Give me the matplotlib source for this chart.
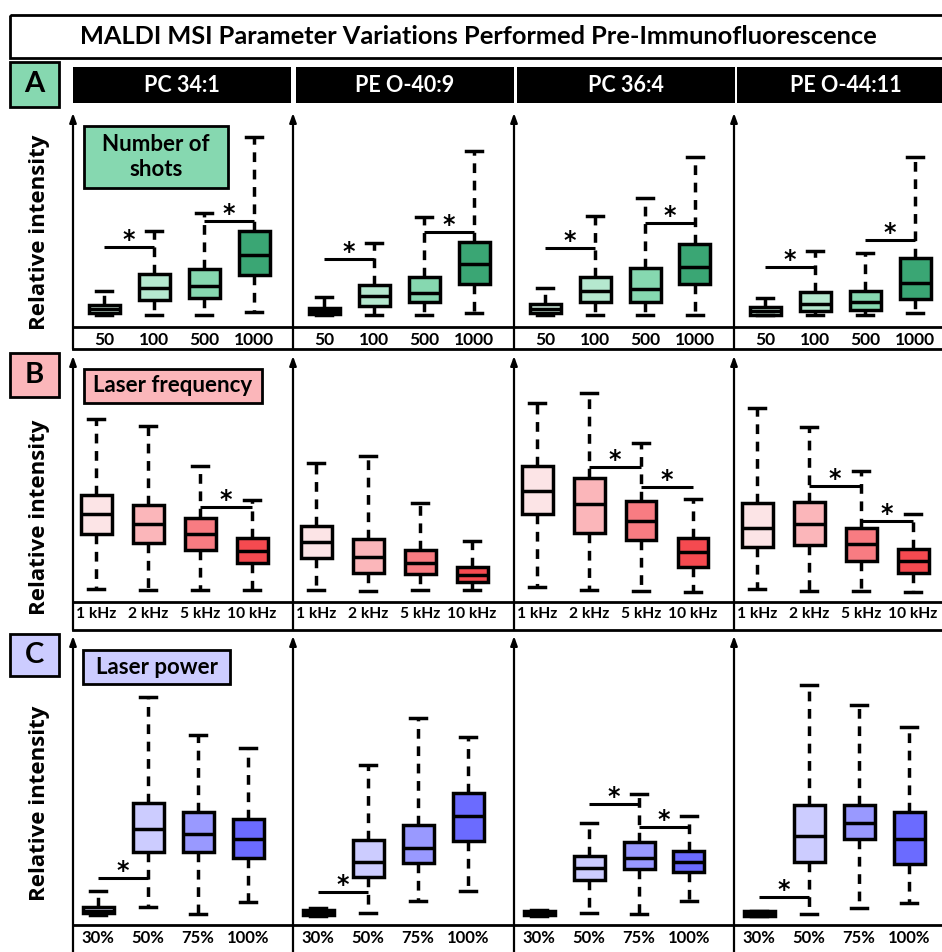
import matplotlib.pyplot as plt
from matplotlib.patches import Rectangle

plt.rcParams['font.family'] = ['Lato', 'DejaVu Sans']

title = "MALDI MSI Parameter Variations Performed Pre-Immunofluorescence"
lipids = ["PC 34:1", "PE O-40:9", "PC 36:4", "PE O-44:11"]
shot_labels = ["50", "100", "500", "1000"]
freq_labels = ["1 kHz", "2 kHz", "5 kHz", "10 kHz"]
power_labels = ["30%", "50%", "75%", "100%"]

# per lipid, per setting: whisker low, q1, median, q3, whisker high (relative intensity)
shots = [
    [[5.7, 6.6, 8.5, 10.4, 17.0], [5.7, 12.7, 18.4, 25.0, 45.3], [5.7, 13.7, 19.3, 27.4, 53.8], [7.0, 24.5, 34.0, 45.3, 89.6]],
    [[5.7, 6.1, 7.5, 9.0, 14.2], [5.7, 9.9, 14.8, 19.8, 39.8], [5.7, 11.6, 16.2, 23.7, 51.7], [6.5, 20.3, 29.7, 40.0, 83.2]],
    [[5.7, 6.5, 8.5, 10.8, 18.3], [5.7, 11.6, 17.0, 23.7, 52.5], [5.7, 11.9, 17.8, 28.0, 60.7], [5.7, 20.3, 28.2, 39.2, 80.0]],
    [[5.7, 5.8, 7.5, 9.3, 13.8], [5.7, 7.7, 10.7, 16.4, 36.0], [5.7, 8.0, 11.9, 17.1, 35.0], [6.7, 13.2, 20.6, 32.4, 80.3]],
]
shots_sig = [[(0, 1, 37.7), (2, 3, 50.0)], [(0, 1, 32.0), (2, 3, 44.7)],
             [(0, 1, 37.1), (2, 3, 49.2)], [(0, 1, 28.4), (2, 3, 41.0)]]

freq = [
    [[5.2, 27.7, 35.9, 43.9, 75.0], [4.9, 24.0, 31.8, 39.8, 72.1], [4.9, 21.3, 27.7, 34.3, 55.9], [4.9, 15.9, 20.9, 26.4, 41.8]],
    [[4.9, 17.9, 24.5, 31.1, 57.1], [4.6, 11.8, 18.3, 25.7, 59.8], [4.9, 11.3, 16.1, 21.3, 40.4], [4.9, 8.3, 11.1, 14.2, 25.1]],
    [[6.0, 36.1, 45.6, 55.7, 81.7], [4.9, 28.4, 40.0, 50.9, 85.5], [4.6, 25.4, 33.3, 41.5, 65.0], [4.2, 14.5, 20.6, 26.4, 42.1]],
    [[5.3, 22.7, 30.5, 40.5, 79.4], [4.6, 23.4, 31.8, 40.9, 71.8], [4.6, 16.8, 23.8, 30.2, 53.8], [4.0, 11.8, 16.8, 21.6, 36.1]],
]
freq_sig = [[(2, 3, 39.1)], [], [(1, 2, 55.2), (2, 3, 47.3)], [(1, 2, 47.5), (2, 3, 33.2)]]

power = [
    [[3.5, 4.1, 5.0, 6.4, 11.9], [6.1, 25.5, 33.3, 42.6, 79.5], [3.8, 25.5, 31.6, 39.5, 66.2], [8.1, 23.2, 29.8, 36.8, 61.6]],
    [[3.3, 3.6, 4.3, 5.1, 5.8], [4.3, 16.6, 22.0, 29.6, 55.7], [8.5, 21.5, 26.7, 34.8, 72.0], [11.8, 29.4, 38.0, 45.9, 65.4]],
    [[3.2, 3.5, 4.2, 4.9, 5.2], [4.3, 15.7, 19.8, 24.0, 35.4], [3.8, 19.6, 23.5, 28.9, 45.6], [8.5, 18.4, 21.8, 25.9, 38.1]],
    [[3.1, 3.3, 4.0, 4.9, 4.9], [3.8, 21.8, 31.0, 41.8, 83.6], [6.0, 29.8, 35.6, 41.8, 76.7], [7.5, 21.3, 30.0, 39.5, 68.9]],
]
power_sig = [[(0, 1, 16.3)], [(0, 1, 11.4)], [(1, 2, 42.2), (2, 3, 34.3)], [(0, 1, 9.9)]]

green = ["#d4f2e3", "#b5e8cf", "#86d8b0", "#3aa674"]
red = ["#fce4e6", "#fbb6ba", "#f87c82", "#f54a50"]
blue = ["#e4e4ff", "#ccccff", "#9999ff", "#6b6bff"]

# layout in pixels
W, H = 942, 952
col_x = [73, 293, 514, 734]
col_w = 221

fig = plt.figure(figsize=(W / 100, H / 100), dpi=100)
bg = fig.add_axes([0, 0, 1, 1])
bg.set_xlim(0, W)
bg.set_ylim(H, 0)
bg.axis('off')


def frac(x, y, w, h):
    return [x / W, 1 - (y + h) / H, w / W, h / H]


# title
bg.add_patch(Rectangle((10, 15), 945, 43, fill=False, lw=2, ec='k'))
bg.text(478, 37, title, ha='center', va='center', fontsize=18.3, fontweight='bold')

# lipid headers
for i, name in enumerate(lipids):
    x0 = col_x[i] + (0 if i == 0 else 3)
    bg.add_patch(Rectangle((x0, 67), 218, 36, fc='black', ec='none'))
    bg.text(x0 + 109, 85.5, name, color='white', ha='center', va='center',
            fontsize=15.5, fontweight='bold')

rows = [
    dict(letter="A", color="#86d8b0", row_top=58, top=115, axis_y=327, bottom=349, ylab=232,
         data=shots, sig=shots_sig, labels=shot_labels, fills=green, off=31, step=50, tick_fs=12.5,
         tag="Number of\nshots", tag_box=(84, 126, 144, 62), box_h=45),
    dict(letter="B", color="#fbb6ba", row_top=349, top=358, axis_y=602, bottom=630, ylab=517,
         data=freq, sig=freq_sig, labels=freq_labels, fills=red, off=23, step=52, tick_fs=11.2,
         tag="Laser frequency", tag_box=(84, 369, 178, 34), box_h=44),
    dict(letter="C", color="#ccccff", row_top=630, top=638, axis_y=925, bottom=952, ylab=803,
         data=power, sig=power_sig, labels=power_labels, fills=blue, off=25, step=50, tick_fs=12,
         tag="Laser power", tag_box=(83, 650, 147, 34), box_h=42),
]

for r in rows:
    # row letter box and y label
    bg.add_patch(Rectangle((10, r['row_top'] + 4), 49, r['box_h'], fc=r['color'], ec='k', lw=2))
    bg.text(34.5, r['row_top'] + 4 + r['box_h'] / 2, r['letter'], ha='center', va='center',
            fontsize=21, fontweight='bold')
    bg.text(40, r['ylab'], "Relative intensity", rotation=90,
            ha='center', va='center', fontsize=16, fontweight='bold', family='Open Sans')
    # grid lines of the row
    if r['letter'] != "A":
        bg.plot([73, W], [r['row_top'], r['row_top']], color='k', lw=2)
    bg.plot([73, W], [r['axis_y'], r['axis_y']], color='k', lw=2)
    for x in col_x:
        bg.annotate('', xy=(x, r['top'] - 2), xytext=(x, r['bottom']),
                    arrowprops=dict(arrowstyle='-|>,head_length=0.55,head_width=0.2',
                                    color='k', lw=1.6, shrinkA=0, shrinkB=0))
    # tag box
    tx, ty, tw, th = r['tag_box']
    bg.add_patch(Rectangle((tx, ty), tw, th, fc=r['color'], ec='k', lw=2, zorder=3))
    bg.text(tx + tw / 2, ty + th / 2, r['tag'], ha='center', va='center', fontsize=16,
            fontweight='bold', linespacing=1.2, zorder=4)

    px_per_unit = (r['axis_y'] - r['top']) / 100
    for c in range(4):
        ax = fig.add_axes(frac(col_x[c], r['top'], col_w, r['axis_y'] - r['top']))
        stats = [dict(whislo=b[0], q1=b[1], med=b[2], q3=b[3], whishi=b[4], fliers=[])
                 for b in r['data'][c]]
        art = ax.bxp(stats, positions=range(4), widths=31 / r['step'],
                     capwidths=16 / r['step'], showfliers=False, patch_artist=True,
                     manage_ticks=False,
                     boxprops=dict(lw=2.5, edgecolor='k'),
                     whiskerprops=dict(lw=2.5, linestyle=(0, (2.8, 2.2))),
                     capprops=dict(lw=2.5),
                     medianprops=dict(lw=2.5, color='k'))
        for patch, fc in zip(art['boxes'], r['fills']):
            patch.set_facecolor(fc)
        for i, j, y in r['sig'][c]:
            ax.plot([i, j], [y, y], color='k', lw=2.2, solid_capstyle='butt')
            ax.text((i + j) / 2, y + 7 / px_per_unit, '*', ha='center', va='center',
                    fontsize=17, fontweight='bold', family='DejaVu Sans')
        ax.set_xlim(-r['off'] / r['step'], (col_w - r['off']) / r['step'])
        ax.set_ylim(0, 100)
        ax.patch.set_visible(False)
        for s in ax.spines.values():
            s.set_visible(False)
        ax.set_yticks([])
        ax.set_xticks(range(4), r['labels'], fontsize=r['tick_fs'], fontweight='bold')
        ax.tick_params(axis='x', length=0, pad=3.5)

fig.savefig('out.png', dpi=100)
